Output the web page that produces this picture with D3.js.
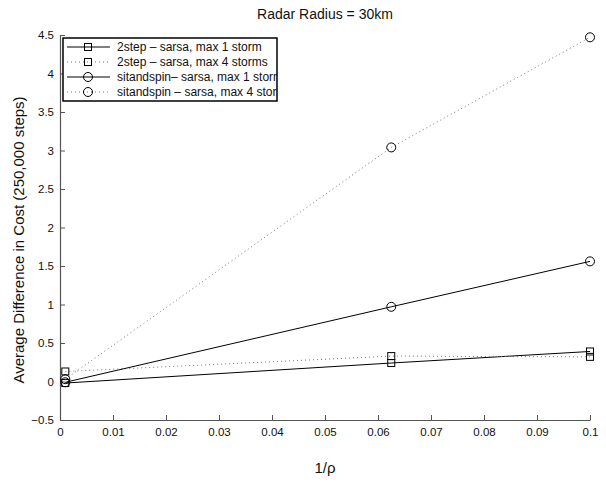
<!DOCTYPE html>
<html>
<head>
<meta charset="utf-8">
<script src="https://cdn.jsdelivr.net/npm/d3@7"></script>
<style>
  body { margin: 0; background: #fff; }
  svg { font-family: "Liberation Sans", Arial, Helvetica, sans-serif; }
</style>
</head>
<body>
<svg id="chart" width="606" height="485"></svg>
<script>
// x values (1/rho)
var xVals = [0.001, 0.0625, 0.1]

// series values
var twoStepMax1 = [-0.02, 0.24, 0.39]
var twoStepMax4 = [0.13, 0.33, 0.32]
var sitMax1 = [-0.01, 0.97, 1.56]
var sitMax4 = [0.03, 3.04, 4.47]

var seriesNames = [
  "2step \u2013 sarsa, max 1 storm",
  "2step \u2013 sarsa, max 4 storms",
  "sitandspin\u2013 sarsa, max 1 storm",
  "sitandspin \u2013 sarsa, max 4 storms"
]

var xTicks = [0, 0.01, 0.02, 0.03, 0.04, 0.05, 0.06, 0.07, 0.08, 0.09, 0.1]
var yTicks = [-0.5, 0, 0.5, 1, 1.5, 2, 2.5, 3, 3.5, 4, 4.5]

var series = [
  {name: seriesNames[0], vals: twoStepMax1, marker: "square", dotted: false},
  {name: seriesNames[1], vals: twoStepMax4, marker: "square", dotted: true},
  {name: seriesNames[2], vals: sitMax1, marker: "circle", dotted: false},
  {name: seriesNames[3], vals: sitMax4, marker: "circle", dotted: true}
]

var svg = d3.select("#chart")
var plotL = 60, plotR = 590, plotT = 35, plotB = 420

var x = d3.scaleLinear().domain([0, 0.1]).range([plotL, plotR])
var y = d3.scaleLinear().domain([-0.5, 4.5]).range([plotB, plotT])

// axes
var xAxis = d3.axisBottom(x).tickValues(xTicks).tickSizeInner(-5).tickSizeOuter(0)
  .tickPadding(8).tickFormat(function(d){ return d3.format("")(+d.toFixed(2)) })
var yAxis = d3.axisLeft(y).tickValues(yTicks).tickSizeInner(-5).tickSizeOuter(0)
  .tickPadding(6).tickFormat(function(d){ return d < 0 ? "\u2212" + Math.abs(d) : d })

var gx = svg.append("g").attr("transform", "translate(0," + plotB + ")").call(xAxis)
var gy = svg.append("g").attr("transform", "translate(" + plotL + ",0)").call(yAxis)
;[gx, gy].forEach(function(g){
  g.select(".domain").attr("stroke", "#555").attr("stroke-width", 1.2)
  g.selectAll(".tick line").attr("stroke", "#555")
  g.selectAll(".tick text").attr("font-size", 11.5).attr("fill", "#111")
})

// lines
var line = d3.line()
  .x(function(d, i){ return x(xVals[i]) })
  .y(function(d){ return y(d) })

function drawMarker(g, type, cx, cy, stroke) {
  if (type == "square") {
    g.append("rect").attr("x", cx - 3.5).attr("y", cy - 3.5).attr("width", 7).attr("height", 7)
      .attr("fill", "none").attr("stroke", stroke).attr("stroke-width", 1)
  } else {
    g.append("circle").attr("cx", cx).attr("cy", cy).attr("r", 4.5)
      .attr("fill", "none").attr("stroke", stroke).attr("stroke-width", 1)
  }
}

series.forEach(function(s){
  svg.append("path")
    .datum(s.vals)
    .attr("d", line)
    .attr("fill", "none")
    .attr("stroke", s.dotted ? "#777" : "#000")
    .attr("stroke-width", 1)
    .attr("stroke-dasharray", s.dotted ? "1,3" : null)
  var g = svg.append("g")
  s.vals.forEach(function(v, i){
    drawMarker(g, s.marker, x(xVals[i]), y(v), "#000")
  })
})

// legend
var lx = 63, ly = 38, lw = 214, lh = 63
svg.append("clipPath").attr("id", "legClip")
  .append("rect").attr("x", lx).attr("y", ly).attr("width", lw).attr("height", lh)
var leg = svg.append("g")
leg.append("rect").attr("x", lx).attr("y", ly).attr("width", lw).attr("height", lh)
  .attr("fill", "#fff").attr("stroke", "none")
var legItems = leg.append("g").attr("clip-path", "url(#legClip)")
series.forEach(function(s, i){
  var yy = ly + 9 + i * 15
  legItems.append("line").attr("x1", lx + 4).attr("x2", lx + 47).attr("y1", yy).attr("y2", yy)
    .attr("stroke", s.dotted ? "#777" : "#000").attr("stroke-width", 1)
    .attr("stroke-dasharray", s.dotted ? "1,3" : null)
  var mg = legItems.append("g")
  drawMarker(mg, s.marker, lx + 25, yy, "#000")
  legItems.append("text").attr("x", lx + 54).attr("y", yy + 4)
    .attr("font-size", 12).attr("fill", "#111").text(s.name)
})
leg.append("rect").attr("x", lx).attr("y", ly).attr("width", lw).attr("height", lh)
  .attr("fill", "none").attr("stroke", "#000").attr("stroke-width", 1.5)

// title and labels
svg.append("text").attr("x", (plotL + plotR) / 2).attr("y", 19)
  .attr("text-anchor", "middle").attr("font-size", 14).attr("fill", "#111")
  .text("Radar Radius = 30km")
svg.append("text").attr("x", (plotL + plotR) / 2).attr("y", 473)
  .attr("text-anchor", "middle").attr("font-size", 15).attr("fill", "#111")
  .text("1/\u03c1")
svg.append("text")
  .attr("transform", "translate(24,240) rotate(-90)")
  .attr("text-anchor", "middle").attr("font-size", 15).attr("fill", "#111")
  .text("Average Difference in Cost (250,000 steps)")
</script>
</body>
</html>
